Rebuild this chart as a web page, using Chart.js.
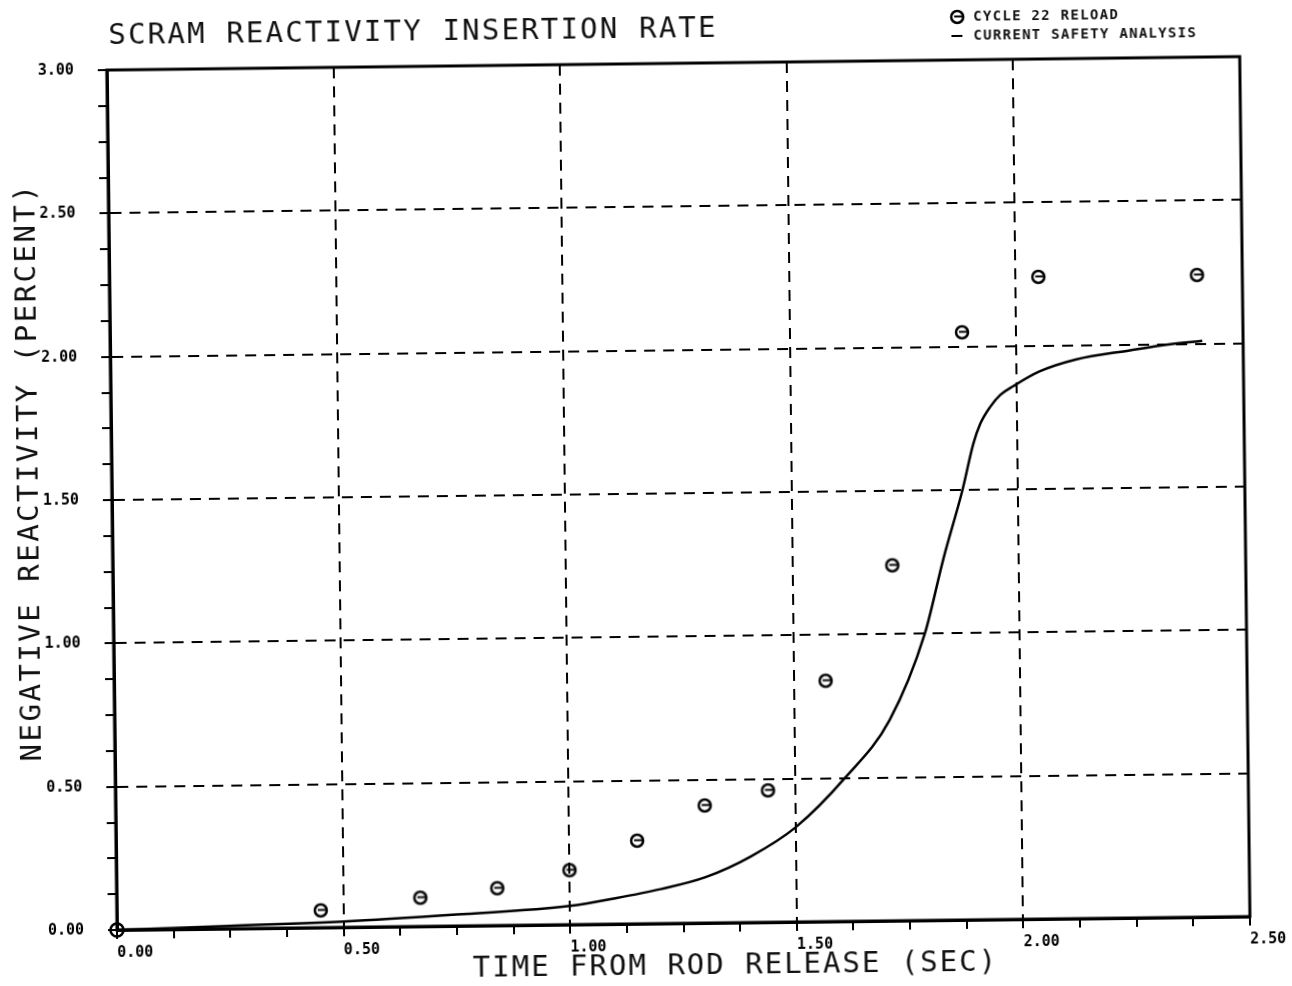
<!DOCTYPE html>
<html>
<head>
<meta charset="utf-8">
<title>Scram reactivity insertion rate</title>
<script src="https://cdn.jsdelivr.net/npm/chart.js@4.4.1/dist/chart.umd.min.js"></script>
<style>
  html, body { margin: 0; padding: 0; background: #fff; }
  /* the scanned plot sits a little crooked on the page */
  #scramChart { display: block; transform: rotate(-0.68deg); transform-origin: 117px 930px; }
</style>
</head>
<body>
<canvas id="scramChart" width="1292" height="986"></canvas>
<script>
const chartTitle = 'SCRAM REACTIVITY INSERTION RATE';
const xTitle = 'TIME FROM ROD RELEASE (SEC)';
const yTitle = 'NEGATIVE REACTIVITY (PERCENT)';

// current safety analysis curve (sec, % reactivity)
const curveTime = [0, 0.25, 0.5, 0.75, 1.0, 1.1, 1.2, 1.3, 1.4, 1.5, 1.61, 1.71, 1.79, 1.833, 1.877, 1.902, 1.918, 1.941, 1.963, 1.992, 2.05, 2.13, 2.25, 2.34, 2.41];
const curveReactivity = [0, 0.01, 0.02, 0.04, 0.065, 0.09, 0.12, 0.16, 0.23, 0.33, 0.5, 0.7, 1.0, 1.26, 1.5, 1.66, 1.73, 1.79, 1.83, 1.86, 1.91, 1.95, 1.98, 2.0, 2.01];

// cycle 22 reload points
const reloadTime = [0.45, 0.67, 0.84, 1.00, 1.15, 1.30, 1.44, 1.57, 1.72, 1.88, 2.05, 2.40];
const reloadReactivity = [0.06, 0.10, 0.13, 0.19, 0.29, 0.41, 0.46, 0.84, 1.24, 2.05, 2.24, 2.24];

const originPoint = [0, 0];

const xMax = 2.5;
const yMax = 3.0;
const tickStep = 0.125;

function isMajor(v) {
    return Math.abs(v / 0.5 - Math.round(v / 0.5)) < 1e-6;
}

function makeReloadMarker() {
    const c = document.createElement('canvas');
    c.width = 18; c.height = 18;
    const g = c.getContext('2d');
    g.strokeStyle = '#000';
    g.lineWidth = 2.5;
    g.beginPath(); g.arc(9, 9, 6, 0, Math.PI * 2); g.stroke();
    g.lineWidth = 2;
    g.beginPath(); g.moveTo(6, 8.5); g.lineTo(14, 8.5); g.stroke();
    return c;
}

function makeOriginMarker() {
    const c = document.createElement('canvas');
    c.width = 18; c.height = 18;
    const g = c.getContext('2d');
    g.strokeStyle = '#000';
    g.lineWidth = 2.5;
    g.beginPath(); g.arc(9, 9, 6.5, 0, Math.PI * 2); g.stroke();
    g.lineWidth = 2;
    g.beginPath();
    g.moveTo(2, 9); g.lineTo(16, 9);
    g.moveTo(9, 2); g.lineTo(9, 16);
    g.stroke();
    return c;
}

const reloadMarker = makeReloadMarker();
const originMarker = makeOriginMarker();

const framePlugin = {
    id: 'frame',
    beforeDatasetsDraw(chart) {
        const { ctx, chartArea: a } = chart;
        ctx.save();
        ctx.strokeStyle = '#000';
        ctx.lineWidth = 3;
        ctx.strokeRect(a.left, a.top, a.right - a.left, a.bottom - a.top);
        ctx.restore();
    }
};

const plotText = {
    id: 'plotText',
    afterDraw(chart) {
        const ctx = chart.ctx;
        const ds = chart.data.datasets;
        ctx.save();
        ctx.fillStyle = '#111';
        ctx.textBaseline = 'middle';

        ctx.font = '29px "DejaVu Sans Mono"';
        ctx.letterSpacing = '2.2px';
        ctx.textAlign = 'left';
        ctx.fillText(chartTitle, 119, 36);

        ctx.letterSpacing = '2px';
        ctx.textAlign = 'center';
        ctx.fillText(xTitle, 735, 973);

        ctx.save();
        ctx.translate(35, 471);
        ctx.rotate(-Math.PI / 2);
        ctx.letterSpacing = '2.5px';
        ctx.fillText(yTitle, 0, 0);
        ctx.restore();

        // legend block, top right
        ctx.font = 'bold 14px "DejaVu Sans Mono"';
        ctx.letterSpacing = '1.3px';
        ctx.textAlign = 'left';
        ctx.drawImage(reloadMarker, 968 - 9, 27 - 9);
        ctx.fillText(ds[1].label, 984, 27);
        ctx.strokeStyle = '#000';
        ctx.lineWidth = 2;
        ctx.beginPath(); ctx.moveTo(962, 46); ctx.lineTo(973, 46); ctx.stroke();
        ctx.fillText(ds[0].label, 984, 46);
        ctx.restore();
    }
};

const tickFont = { family: 'DejaVu Sans Mono', weight: 'bold', size: 15 };

function gridOpts() {
    return {
        color: c => (c.tick && isMajor(c.tick.value)) ? '#000' : 'rgba(0,0,0,0)',
        lineWidth: 2,
        tickColor: '#000',
        tickWidth: 2,
        tickLength: 9,
        drawTicks: true
    };
}

new Chart(document.getElementById('scramChart'), {
    type: 'scatter',
    data: {
        datasets: [
            {
                label: 'CURRENT SAFETY ANALYSIS',
                data: curveTime.map((t, i) => ({ x: t, y: curveReactivity[i] })),
                showLine: true,
                borderColor: '#000',
                borderWidth: 2.5,
                pointRadius: 0,
                cubicInterpolationMode: 'monotone',
                fill: false
            },
            {
                label: 'CYCLE 22 RELOAD',
                data: reloadTime.map((t, i) => ({ x: t, y: reloadReactivity[i] })),
                pointStyle: reloadMarker,
                pointRadius: 8,
                showLine: false
            },
            {
                label: 'origin',
                data: [{ x: originPoint[0], y: originPoint[1] }],
                pointStyle: originMarker,
                pointRadius: 8,
                clip: false
            }
        ]
    },
    options: {
        responsive: false,
        animation: false,
        devicePixelRatio: 1,
        layout: { padding: { top: 70, right: 42, left: 0, bottom: 0 } },
        plugins: {
            legend: { display: false },
            title: { display: false },
            tooltip: { enabled: false }
        },
        scales: {
            x: {
                type: 'linear',
                min: 0,
                max: xMax,
                afterFit: s => { s.height = 56; },
                border: { display: true, color: '#000', width: 3, dash: [11, 8] },
                grid: gridOpts(),
                ticks: {
                    stepSize: tickStep,
                    autoSkip: false,
                    maxRotation: 0,
                    align: 'start',
                    padding: 5,
                    color: '#000',
                    font: tickFont,
                    callback: v => isMajor(v) ? v.toFixed(2) : ''
                }
            },
            y: {
                type: 'linear',
                min: 0,
                max: yMax,
                afterFit: s => { s.width = 117; },
                border: { display: true, color: '#000', width: 3, dash: [11, 8] },
                grid: gridOpts(),
                ticks: {
                    stepSize: tickStep,
                    autoSkip: false,
                    padding: 24,
                    color: '#000',
                    font: tickFont,
                    callback: v => isMajor(v) ? v.toFixed(2) : ''
                }
            }
        }
    },
    plugins: [framePlugin, plotText]
});
</script>
</body>
</html>
